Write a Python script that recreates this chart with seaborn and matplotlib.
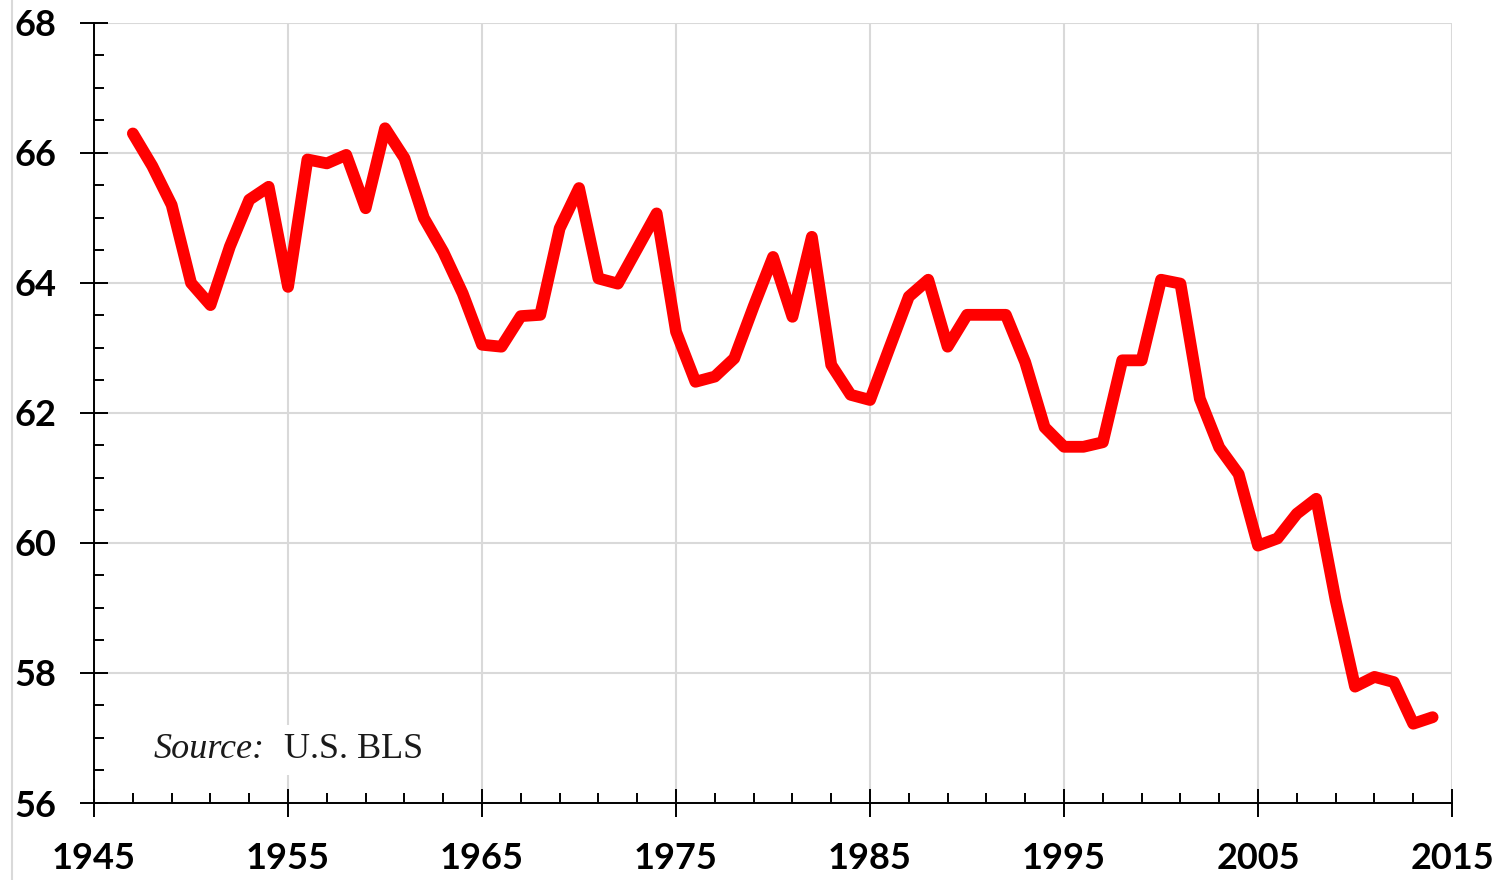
import numpy as np
import pandas as pd
import matplotlib.pyplot as plt
import seaborn as sns
from matplotlib.lines import Line2D

# values
years = list(range(1947, 2015))
ratio = [
    66.3, 65.8, 65.2, 64.0, 63.66, 64.56, 65.28, 65.48, 63.94, 65.9,   # 1947-1956
    65.84, 65.97, 65.15, 66.38, 65.92, 65.0, 64.48, 63.84, 63.05, 63.02,  # 1957-1966
    63.49, 63.51, 64.84, 65.46, 64.07, 63.99, 64.53, 65.07, 63.25, 62.48,  # 1967-1976
    62.56, 62.84, 63.64, 64.4, 63.48, 64.71, 62.74, 62.28, 62.2, 63.0,    # 1977-1986
    63.79, 64.05, 63.02, 63.51, 63.51, 63.51, 62.78, 61.78, 61.48, 61.48,  # 1987-1996
    61.55, 62.81, 62.81, 64.05, 63.99, 62.22, 61.47, 61.06, 59.96, 60.07,  # 1997-2006
    60.45, 60.68, 59.12, 57.79, 57.94, 57.86, 57.22, 57.32,               # 2007-2014
]
x_major = list(range(1945, 2016, 10))
x_minor = list(range(1947, 2015, 2))
y_major = list(range(56, 69, 2))
y_minor = list(np.arange(56.5, 68, 0.5))
source_label = "U.S. BLS"

df = pd.DataFrame({"year": years, "ratio": ratio})

sns.set_theme(style="white")
plt.rcParams["font.family"] = ["Lato", "DejaVu Sans"]
plt.rcParams["font.weight"] = "bold"

fig = plt.figure(figsize=(15.05, 8.8), dpi=100)
ax = fig.add_axes([0.0625, 0.0875, 0.9023, 0.8864])

sns.lineplot(data=df, x="year", y="ratio", ax=ax, color="#ff0000",
             linewidth=8.5, solid_joinstyle="round", solid_capstyle="round")

ax.set_xlim(1945, 2015)
ax.set_ylim(56, 68)
ax.set_xticks(x_major)
ax.set_xticks(x_minor, minor=True)
ax.set_yticks(y_major)
ax.set_yticks(y_minor, minor=True)

ax.grid(True, which="major", color="#d9d9d9", linewidth=1.5)
ax.grid(False, which="minor")
ax.set_axisbelow(True)

for side in ["top", "right"]:
    ax.spines[side].set_visible(False)
for side in ["left", "bottom"]:
    ax.spines[side].set_color("black")
    ax.spines[side].set_linewidth(1.4)

ax.tick_params(axis="both", which="both", bottom=True, left=True,
               top=False, right=False)
ax.tick_params(axis="both", which="major", direction="inout", length=20,
               width=1.4, color="black", labelsize=26, labelcolor="black")
ax.tick_params(axis="both", which="minor", direction="in", length=7.5,
               width=1.4, color="black")
ax.tick_params(axis="x", which="major", pad=18)
ax.tick_params(axis="y", which="major", pad=17)

ax.set_xlabel("")
ax.set_ylabel("")

# source note, white box hides the gridline behind it
serif = ["Liberation Serif", "DejaVu Serif"]
src = ax.text(1948.05, 56.82, "Source:", family=serif, style="italic",
              fontsize=26, fontweight="normal", ha="left", va="center",
              color="#1a1a1a",
              bbox=dict(facecolor="white", edgecolor="none", pad=6))
ax.annotate(source_label, xy=(1, 0.5), xycoords=src, xytext=(14, 0),
            textcoords="offset points", family=serif, fontsize=26,
            fontweight="normal", ha="left", va="center", color="#1a1a1a",
            bbox=dict(facecolor="white", edgecolor="none", pad=6))

# thin frame line at the left edge of the original picture
fig.add_artist(Line2D([12 / 1505, 12 / 1505], [0, 1], color="#d9d9d9",
                      linewidth=1.5, transform=fig.transFigure))

fig.savefig("out.png", dpi=100)
